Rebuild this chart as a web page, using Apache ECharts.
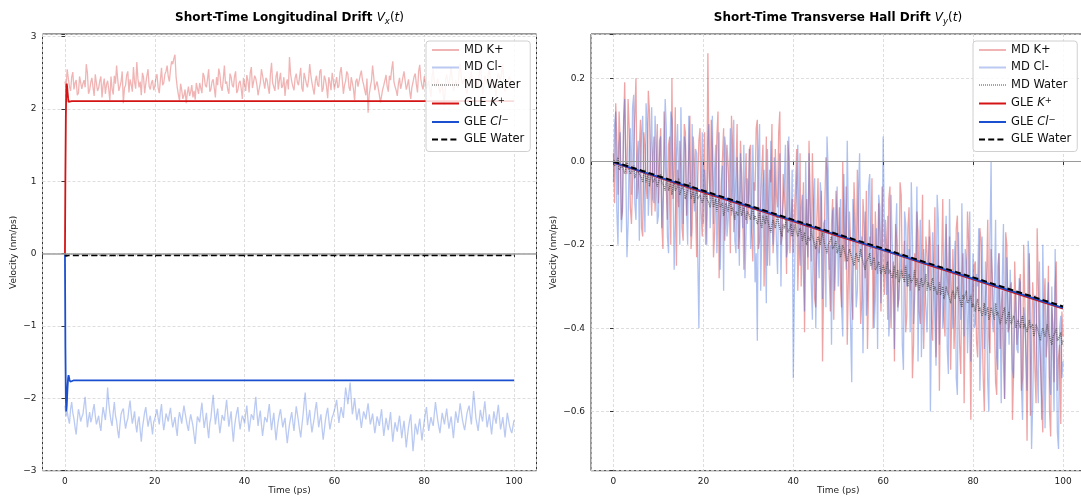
<!DOCTYPE html>
<html><head><meta charset="utf-8">
<script src="https://cdn.jsdelivr.net/npm/echarts@6/dist/echarts.min.js"></script>
<style>html,body{margin:0;padding:0;background:#fff}#c{width:1081px;height:497px}</style>
</head><body><div id="c"></div>
<script>
// ---------- DATA ----------
// MD sampling grid: 0..100 ps every 0.25 ps; "A" arrays hold the samples at t = 0, 0.5, 1.0, ...
// and "B" arrays the samples in between (t = 0.25, 0.75, ...).
const tMD = [];
for (let i = 0; i <= 400; i++) tMD.push(i * 0.25);

// Left panel: Vx(t)
const mdKxA = [
2.38,2.55,2.31,2.44,2.27,2.40,2.22,2.47,2.35,2.30,2.50,2.26,2.43,2.18,2.36,2.29,2.45,2.33,2.21,2.39,
2.12,2.28,2.46,2.60,2.25,2.38,2.08,2.33,2.52,2.41,2.24,2.37,2.65,2.30,2.19,2.44,2.35,2.55,2.27,2.40,
2.31,2.48,2.22,2.57,2.36,2.52,2.45,2.55,2.62,2.75,2.30,2.12,2.26,2.19,2.08,2.31,2.24,2.16,2.13,2.28,
2.36,2.22,2.45,2.30,2.55,2.27,2.41,2.16,2.33,2.48,2.25,2.60,2.38,2.21,2.44,2.30,2.52,2.26,2.39,2.14,
2.34,2.47,2.23,2.58,2.31,2.42,2.19,2.36,2.53,2.28,2.40,2.21,2.64,2.35,2.45,2.27,2.50,2.32,2.18,2.41,
2.72,2.38,2.26,2.49,2.33,2.57,2.24,2.43,2.30,2.62,2.36,2.20,2.46,2.31,2.55,2.28,2.41,2.15,2.37,2.50,
2.27,2.44,2.32,2.58,2.21,2.39,2.48,2.25,2.36,2.12,2.42,2.29,2.53,2.34,2.19,1.95,2.31,2.60,2.26,2.38,
2.20,2.10,2.33,2.47,2.24,2.40,2.66,2.31,2.18,2.43,2.35,2.52,2.27,2.41,2.14,2.37,2.49,2.23,2.61,2.32,
2.45,2.28,2.39,2.17,2.55,2.30,2.42,2.22,2.36,2.05,2.48,2.33,2.58,2.25,2.40,2.29,2.63,2.35,2.44,2.21,
2.37,2.52,2.26,2.43,2.31,2.67,2.20,2.46,2.34,2.57,2.28,2.41,2.18,2.49,2.38,2.62,2.24,2.35,2.45,2.30,
2.33];
const mdKxB = [
2.30,2.42,2.25,2.51,2.36,2.19,2.45,2.28,2.40,2.62,2.21,2.37,2.30,2.48,2.25,2.39,2.16,2.42,2.34,2.27,
2.45,2.20,2.35,2.41,2.31,2.52,2.29,2.47,2.23,2.34,2.58,2.28,2.42,2.38,2.50,2.22,2.46,2.31,2.36,2.26,
2.43,2.29,2.40,2.33,2.48,2.60,2.38,2.66,2.70,2.44,2.20,2.35,2.14,2.27,2.22,2.18,2.33,2.25,2.36,2.21,
2.29,2.50,2.33,2.42,2.24,2.38,2.29,2.44,2.56,2.31,2.41,2.35,2.27,2.49,2.33,2.45,2.22,2.36,2.28,2.43,
2.25,2.39,2.50,2.29,2.46,2.33,2.28,2.55,2.37,2.43,2.30,2.48,2.36,2.25,2.52,2.40,2.29,2.44,2.35,2.27,
2.48,2.31,2.43,2.37,2.45,2.29,2.50,2.35,2.41,2.47,2.28,2.39,2.34,2.52,2.24,2.46,2.31,2.44,2.26,2.40,
2.36,2.29,2.50,2.41,2.33,2.52,2.30,2.44,2.27,2.38,2.31,2.47,2.40,2.26,2.42,2.20,2.39,2.45,2.33,2.29,
2.09,2.27,2.40,2.31,2.46,2.55,2.38,2.26,2.35,2.28,2.44,2.39,2.33,2.25,2.30,2.45,2.34,2.52,2.41,2.27,
2.36,2.33,2.26,2.46,2.38,2.35,2.30,2.29,2.18,2.40,2.37,2.46,2.40,2.31,2.34,2.51,2.43,2.39,2.28,2.33,
2.45,2.35,2.38,2.36,2.49,2.42,2.31,2.39,2.48,2.36,2.33,2.30,2.42,2.45,2.52,2.31,2.29,2.41,2.36,2.34];
const mdClxA = [
-2.10,-2.18,-2.35,-2.05,-2.28,-2.50,-2.15,-2.32,-2.22,-1.98,-2.40,-2.19,-2.27,-2.08,-2.36,-2.24,-2.45,-2.12,-2.30,-1.85,
-2.20,-2.38,-2.05,-2.31,-2.55,-2.22,-2.14,-2.42,-2.28,-2.03,-2.35,-2.18,-2.47,-2.25,-2.60,-2.30,-2.12,-2.39,-2.24,-2.50,
-2.28,-2.15,-2.36,-2.08,-2.44,-2.21,-2.32,-2.13,-2.40,-2.26,-2.52,-2.19,-2.35,-2.10,-2.29,-2.45,-2.22,-2.38,-2.63,-2.25,
-2.33,-2.06,-2.41,-2.20,-2.55,-2.27,-1.95,-2.36,-2.14,-2.48,-2.23,-2.31,-2.02,-2.39,-2.18,-2.60,-2.28,-2.12,-2.43,-2.24,
-2.35,-2.10,-2.46,-2.22,-2.30,-1.98,-2.38,-2.17,-2.52,-2.26,-2.33,-2.08,-2.44,-2.20,-2.58,-2.31,-2.15,-2.40,-2.27,-2.62,
-2.36,-2.19,-2.45,-2.11,-2.32,-2.54,-2.24,-1.92,-2.37,-2.16,-2.47,-2.28,-2.05,-2.40,-2.22,-2.57,-2.30,-2.13,-2.43,-2.26,
-2.20,-2.02,-2.34,-2.12,-2.27,-1.85,-2.08,-1.78,-2.22,-2.00,-2.30,-2.14,-2.41,-2.18,-2.29,-2.07,-2.36,-2.21,-2.48,-2.25,
-2.38,-2.15,-2.52,-2.27,-2.44,-2.19,-2.60,-2.33,-2.46,-2.24,-2.55,-2.31,-2.68,-2.40,-2.22,-2.73,-2.35,-2.50,-2.28,-2.58,
-2.32,-2.12,-2.45,-2.26,-2.38,-2.05,-2.30,-2.48,-2.20,-2.36,-2.14,-2.42,-2.25,-2.55,-2.18,-2.34,-2.07,-2.29,-2.44,-2.21,
-2.10,-2.36,-1.90,-2.27,-2.45,-2.16,-2.32,-2.04,-2.40,-2.22,-2.50,-2.18,-2.35,-2.09,-2.43,-2.26,-2.54,-2.20,-2.38,-2.48,
-2.30];
const mdClxB = [
-2.25,-2.28,-2.15,-2.20,-2.40,-2.31,-2.22,-2.26,-2.09,-2.19,-2.28,-2.33,-2.16,-2.24,-2.30,-2.37,-2.26,-2.21,-2.12,-2.06,
-2.31,-2.19,-2.24,-2.45,-2.36,-2.17,-2.30,-2.33,-2.14,-2.21,-2.27,-2.36,-2.32,-2.44,-2.41,-2.19,-2.26,-2.30,-2.37,-2.33,
-2.22,-2.27,-2.19,-2.30,-2.33,-2.26,-2.21,-2.29,-2.33,-2.41,-2.30,-2.26,-2.21,-2.20,-2.38,-2.31,-2.30,-2.51,-2.42,-2.29,
-2.18,-2.25,-2.30,-2.41,-2.35,-2.10,-2.17,-2.24,-2.33,-2.36,-2.27,-2.15,-2.22,-2.28,-2.42,-2.40,-2.19,-2.30,-2.32,-2.28,
-2.21,-2.30,-2.33,-2.25,-2.12,-2.20,-2.26,-2.36,-2.39,-2.29,-2.19,-2.27,-2.31,-2.40,-2.43,-2.22,-2.28,-2.33,-2.46,-2.48,
-2.27,-2.33,-2.27,-2.21,-2.44,-2.38,-2.07,-2.15,-2.26,-2.33,-2.37,-2.15,-2.22,-2.30,-2.41,-2.44,-2.20,-2.29,-2.34,-2.22,
-2.10,-2.19,-2.22,-2.20,-2.05,-1.96,-1.92,-2.01,-2.12,-2.16,-2.21,-2.28,-2.29,-2.23,-2.17,-2.22,-2.29,-2.35,-2.37,-2.31,
-2.26,-2.35,-2.39,-2.36,-2.31,-2.41,-2.45,-2.40,-2.34,-2.39,-2.42,-2.49,-2.53,-2.30,-2.47,-2.56,-2.42,-2.38,-2.43,-2.44,
-2.21,-2.30,-2.35,-2.33,-2.21,-2.18,-2.39,-2.34,-2.28,-2.25,-2.29,-2.33,-2.40,-2.37,-2.26,-2.21,-2.18,-2.37,-2.33,-2.15,
-2.24,-2.12,-2.08,-2.36,-2.30,-2.25,-2.17,-2.22,-2.31,-2.36,-2.34,-2.27,-2.21,-2.26,-2.35,-2.40,-2.37,-2.29,-2.44,-2.39];
const tWaterX = [0,5,10,15,20,25,30,35,40,45,50,55,60,65,70,75,80,85,90,95,100];
const mdWx = [0,-0.02,-0.03,-0.02,-0.01,-0.02,-0.03,-0.02,-0.02,-0.01,-0.03,-0.02,-0.02,-0.03,-0.01,-0.02,-0.02,-0.03,-0.02,-0.02,-0.02];

const tGleX = [0,0.1,0.2,0.3,0.4,0.5,0.6,0.7,0.8,0.9,1.0,1.2,1.5,2,3,5,10,20,30,40,50,60,70,80,90,100];
const gleKx  = [0,1.1,1.9,2.3,2.35,2.3,2.22,2.15,2.1,2.08,2.08,2.1,2.11,2.11,2.11,2.11,2.11,2.11,2.11,2.11,2.11,2.11,2.11,2.11,2.11,2.11];
const gleClx = [0,-1.3,-2.0,-2.18,-2.1,-1.95,-1.82,-1.72,-1.68,-1.7,-1.74,-1.77,-1.76,-1.75,-1.75,-1.75,-1.75,-1.75,-1.75,-1.75,-1.75,-1.75,-1.75,-1.75,-1.75,-1.75];
const gleWx  = [0,-0.01,-0.02,-0.03,-0.03,-0.03,-0.03,-0.025,-0.02,-0.02,-0.02,-0.02,-0.02,-0.02,-0.02,-0.02,-0.02,-0.02,-0.02,-0.02,-0.02,-0.02,-0.02,-0.02,-0.02,-0.02];

// Right panel: Vy(t)
const mdKyA = [
0.02,0.14,-0.08,0.05,-0.12,0.19,-0.03,0.08,-0.15,0.03,0.20,-0.06,0.10,-0.18,0.04,-0.09,0.12,-0.13,0.06,-0.04,
-0.10,0.08,-0.21,0.02,-0.14,0.06,0.20,-0.03,-0.25,-0.11,-0.02,-0.19,0.07,-0.08,0.11,-0.16,-0.01,-0.23,0.05,-0.12,
-0.04,-0.20,0.26,-0.09,0.03,-0.17,0.06,-0.28,-0.05,0.08,-0.13,-0.01,-0.22,0.04,-0.10,0.09,-0.18,-0.03,-0.26,0.02,
-0.12,0.04,-0.24,-0.07,0.10,-0.19,-0.02,-0.30,0.06,-0.14,-0.05,-0.22,0.03,-0.11,0.12,-0.18,-0.08,-0.27,0.01,-0.15,
-0.22,-0.06,-0.31,0.02,-0.17,-0.41,-0.09,0.05,-0.24,-0.13,-0.35,-0.04,-0.19,-0.48,-0.11,-0.02,-0.27,-0.15,-0.38,-0.07,
-0.20,-0.30,0.00,-0.24,-0.44,-0.12,-0.33,-0.05,-0.26,-0.16,-0.39,-0.09,-0.28,-0.45,-0.18,-0.04,-0.31,-0.22,-0.10,-0.36,
-0.25,-0.14,-0.38,-0.06,-0.29,-0.48,-0.19,-0.33,-0.08,-0.27,-0.41,-0.16,-0.31,-0.52,-0.22,-0.12,-0.36,-0.26,-0.45,-0.18,
-0.30,-0.20,-0.43,-0.11,-0.34,-0.55,-0.24,-0.38,-0.15,-0.32,-0.50,-0.21,-0.37,-0.13,-0.44,-0.27,-0.58,-0.33,-0.19,-0.62,
-0.35,-0.24,-0.47,-0.16,-0.39,-0.60,-0.28,-0.42,-0.21,-0.36,-0.53,-0.25,-0.45,-0.31,-0.57,-0.20,-0.40,-0.29,-0.51,-0.34,
-0.40,-0.27,-0.52,-0.33,-0.67,-0.22,-0.45,-0.36,-0.58,-0.30,-0.49,-0.65,-0.28,-0.43,-0.60,-0.35,-0.53,-0.24,-0.47,-0.63,
-0.42];
const mdKyB = [
-0.10,0.05,0.12,-0.14,0.08,-0.02,0.15,-0.11,-0.05,0.11,-0.09,0.03,-0.16,0.07,-0.06,0.17,-0.04,0.02,-0.12,0.09,
0.01,-0.15,0.12,-0.07,0.04,-0.20,-0.09,0.13,-0.02,0.05,-0.16,0.09,-0.13,0.02,-0.21,0.06,-0.10,-0.04,0.08,-0.18,
0.07,-0.12,-0.02,0.10,-0.23,-0.06,0.12,-0.15,0.01,-0.19,0.04,-0.08,0.11,-0.17,-0.03,-0.21,0.05,-0.12,-0.07,-0.15,
0.03,-0.17,-0.05,0.08,-0.21,-0.10,0.04,-0.14,-0.25,-0.02,0.09,-0.16,-0.08,0.07,-0.20,-0.03,-0.13,0.05,-0.22,-0.09,
-0.12,0.03,-0.20,-0.30,-0.05,-0.16,-0.26,-0.10,0.02,-0.33,-0.14,-0.22,-0.07,-0.29,0.01,-0.18,-0.36,-0.09,-0.23,-0.14,
-0.11,-0.35,-0.16,-0.06,-0.28,-0.20,-0.38,-0.13,-0.02,-0.24,-0.33,-0.15,-0.07,-0.30,-0.21,-0.40,-0.12,-0.27,-0.17,-0.06,
-0.32,-0.20,-0.09,-0.40,-0.24,-0.15,-0.35,-0.05,-0.28,-0.19,-0.37,-0.11,-0.23,-0.44,-0.30,-0.17,-0.39,-0.08,-0.33,-0.22,
-0.14,-0.38,-0.26,-0.47,-0.20,-0.31,-0.09,-0.42,-0.27,-0.18,-0.36,-0.45,-0.16,-0.29,-0.51,-0.22,-0.34,-0.12,-0.40,-0.28,
-0.25,-0.43,-0.30,-0.19,-0.52,-0.33,-0.14,-0.46,-0.27,-0.38,-0.56,-0.22,-0.35,-0.48,-0.17,-0.41,-0.30,-0.62,-0.24,-0.44,
-0.31,-0.55,-0.20,-0.46,-0.38,-0.61,-0.29,-0.50,-0.16,-0.42,-0.57,-0.34,-0.47,-0.25,-0.66,-0.39,-0.30,-0.55,-0.44,-0.36];
const mdClyA = [
-0.05,0.12,-0.20,0.07,-0.11,0.15,-0.23,0.02,-0.08,0.16,-0.14,0.05,-0.02,0.11,-0.17,0.09,-0.06,0.13,-0.10,0.03,
-0.13,0.06,-0.09,0.15,-0.18,-0.02,0.10,-0.26,0.01,-0.07,0.13,-0.15,0.04,-0.20,-0.03,0.09,-0.12,0.02,-0.40,-0.06,
-0.15,-0.08,0.05,-0.16,0.11,-0.02,-0.22,0.07,-0.11,-0.31,0.03,-0.14,0.08,-0.06,-0.19,0.01,-0.25,-0.09,0.04,-0.17,
-0.10,-0.21,0.04,-0.29,-0.43,0.09,-0.16,-0.02,-0.34,-0.12,0.05,-0.20,-0.08,-0.27,0.02,-0.14,-0.05,-0.23,0.06,-0.18,
-0.52,-0.12,0.04,-0.25,-0.08,-0.36,-0.17,0.02,-0.29,-0.10,-0.40,-0.21,-0.05,-0.33,-0.14,0.06,-0.26,-0.44,-0.11,-0.20,
-0.30,-0.09,-0.42,-0.18,0.05,-0.27,-0.53,-0.14,-0.35,-0.07,-0.23,-0.46,-0.12,-0.31,-0.03,-0.26,-0.40,-0.16,-0.08,-0.34,
0.06,-0.24,-0.13,-0.37,-0.20,-0.45,-0.10,-0.31,-0.22,-0.50,-0.15,-0.28,-0.41,-0.18,-0.33,-0.06,-0.26,-0.47,-0.21,-0.35,
-0.29,-0.60,-0.17,-0.38,-0.08,-0.44,-0.25,-0.34,-0.13,-0.51,-0.27,-0.40,-0.19,-0.56,-0.31,-0.10,-0.42,-0.24,-0.36,-0.48,
-0.22,-0.39,-0.30,-0.55,-0.18,-0.45,-0.33,-0.60,0.00,-0.41,-0.14,-0.50,-0.35,-0.28,-0.57,-0.23,-0.44,-0.37,-0.52,-0.31,
-0.46,-0.29,-0.62,-0.38,-0.55,-0.25,-0.69,-0.41,-0.33,-0.58,-0.45,-0.20,-0.64,-0.36,-0.52,-0.30,-0.60,-0.43,-0.69,-0.37,
-0.48];
const mdClyB = [
0.09,-0.12,0.04,-0.17,0.10,-0.03,-0.15,0.08,0.13,-0.10,0.01,-0.19,0.07,-0.06,0.14,-0.13,0.02,-0.09,0.11,-0.15,
0.05,-0.16,-0.02,0.08,-0.22,0.12,-0.06,-0.14,0.09,-0.20,-0.04,0.06,-0.11,0.11,-0.18,-0.07,0.03,-0.23,-0.10,0.07,
-0.02,-0.20,0.09,-0.07,-0.15,0.04,-0.11,-0.26,-0.01,0.06,-0.18,-0.05,-0.13,0.10,-0.22,-0.09,0.02,-0.16,-0.28,-0.04,
0.03,-0.15,-0.08,-0.22,0.01,-0.31,-0.06,-0.18,0.03,-0.25,-0.13,0.01,-0.19,-0.04,-0.30,-0.10,0.04,-0.21,-0.12,-0.02,
-0.30,-0.06,-0.19,-0.11,-0.27,0.00,-0.23,-0.13,-0.38,-0.04,-0.19,-0.28,-0.09,-0.15,-0.35,-0.02,-0.20,-0.12,-0.31,-0.06,
-0.19,-0.35,-0.03,-0.26,-0.14,-0.40,-0.09,-0.22,-0.31,0.02,-0.18,-0.28,-0.37,-0.06,-0.24,-0.15,-0.33,-0.45,-0.11,-0.21,
-0.16,-0.32,-0.42,-0.08,-0.27,-0.18,-0.36,-0.25,-0.44,-0.12,-0.30,-0.21,-0.05,-0.39,-0.24,-0.48,-0.14,-0.33,-0.28,-0.41,
-0.18,-0.36,-0.27,-0.49,-0.14,-0.31,-0.40,-0.22,-0.45,-0.09,-0.34,-0.26,-0.52,-0.17,-0.38,-0.29,-0.21,-0.46,-0.12,-0.33,
-0.40,-0.27,-0.16,-0.44,-0.34,-0.24,-0.53,-0.19,-0.38,-0.30,-0.47,-0.22,-0.58,-0.15,-0.42,-0.33,-0.26,-0.50,-0.37,-0.45,
-0.28,-0.54,-0.35,-0.47,-0.19,-0.41,-0.58,-0.32,-0.50,-0.24,-0.62,-0.38,-0.45,-0.29,-0.56,-0.44,-0.21,-0.65,-0.40,-0.52];
const mdWyA = [
0.00,-0.01,0.01,-0.02,-0.01,-0.03,0.00,-0.02,-0.03,-0.01,-0.04,-0.02,-0.03,-0.05,-0.02,-0.04,-0.06,-0.03,-0.05,-0.04,
-0.06,-0.03,-0.05,-0.07,-0.04,-0.06,-0.08,-0.05,-0.07,-0.04,-0.08,-0.06,-0.09,-0.07,-0.05,-0.08,-0.10,-0.07,-0.09,-0.08,
-0.10,-0.07,-0.09,-0.11,-0.08,-0.10,-0.12,-0.09,-0.11,-0.13,-0.10,-0.12,-0.09,-0.11,-0.14,-0.12,-0.10,-0.13,-0.11,-0.14,
-0.12,-0.14,-0.11,-0.13,-0.15,-0.12,-0.16,-0.14,-0.13,-0.15,-0.17,-0.14,-0.16,-0.13,-0.15,-0.18,-0.16,-0.14,-0.17,-0.15,
-0.17,-0.15,-0.18,-0.16,-0.19,-0.17,-0.20,-0.18,-0.16,-0.19,-0.21,-0.18,-0.20,-0.17,-0.19,-0.22,-0.20,-0.18,-0.21,-0.19,
-0.21,-0.23,-0.20,-0.22,-0.24,-0.21,-0.23,-0.25,-0.22,-0.24,-0.21,-0.23,-0.26,-0.24,-0.22,-0.25,-0.23,-0.26,-0.24,-0.27,
-0.25,-0.27,-0.24,-0.26,-0.28,-0.25,-0.27,-0.29,-0.26,-0.28,-0.25,-0.30,-0.27,-0.29,-0.26,-0.28,-0.31,-0.28,-0.30,-0.27,
-0.29,-0.31,-0.28,-0.30,-0.32,-0.29,-0.31,-0.33,-0.30,-0.32,-0.34,-0.31,-0.33,-0.30,-0.32,-0.35,-0.33,-0.31,-0.34,-0.32,
-0.34,-0.36,-0.33,-0.35,-0.37,-0.34,-0.36,-0.38,-0.35,-0.37,-0.34,-0.36,-0.39,-0.37,-0.35,-0.38,-0.36,-0.39,-0.37,-0.40,
-0.38,-0.40,-0.37,-0.39,-0.41,-0.38,-0.40,-0.42,-0.39,-0.41,-0.43,-0.40,-0.42,-0.39,-0.41,-0.44,-0.42,-0.40,-0.43,-0.41,
-0.43];
const mdWyB = [
-0.01,0.00,-0.02,-0.01,-0.02,-0.03,-0.01,-0.03,-0.02,-0.04,-0.02,-0.03,-0.04,-0.03,-0.05,-0.03,-0.04,-0.05,-0.04,-0.06,
-0.04,-0.05,-0.06,-0.05,-0.07,-0.05,-0.06,-0.07,-0.06,-0.08,-0.06,-0.07,-0.08,-0.06,-0.09,-0.07,-0.08,-0.09,-0.08,-0.10,
-0.08,-0.09,-0.10,-0.09,-0.11,-0.09,-0.10,-0.11,-0.10,-0.12,-0.11,-0.10,-0.12,-0.11,-0.12,-0.13,-0.11,-0.12,-0.13,-0.12,
-0.13,-0.12,-0.14,-0.13,-0.14,-0.15,-0.13,-0.15,-0.14,-0.16,-0.15,-0.14,-0.16,-0.15,-0.17,-0.15,-0.16,-0.17,-0.16,-0.18,
-0.16,-0.17,-0.18,-0.17,-0.18,-0.19,-0.18,-0.19,-0.18,-0.20,-0.19,-0.18,-0.20,-0.19,-0.21,-0.20,-0.19,-0.21,-0.20,-0.22,
-0.20,-0.22,-0.21,-0.23,-0.22,-0.21,-0.24,-0.23,-0.22,-0.24,-0.23,-0.25,-0.24,-0.23,-0.25,-0.24,-0.26,-0.25,-0.24,-0.26,
-0.26,-0.25,-0.27,-0.26,-0.27,-0.28,-0.26,-0.28,-0.27,-0.29,-0.28,-0.27,-0.29,-0.28,-0.30,-0.28,-0.29,-0.30,-0.29,-0.31,
-0.30,-0.29,-0.31,-0.30,-0.31,-0.32,-0.30,-0.32,-0.31,-0.33,-0.32,-0.31,-0.33,-0.32,-0.34,-0.32,-0.33,-0.34,-0.33,-0.35,
-0.35,-0.34,-0.36,-0.35,-0.36,-0.37,-0.35,-0.37,-0.36,-0.38,-0.37,-0.36,-0.38,-0.37,-0.39,-0.37,-0.38,-0.39,-0.38,-0.40,
-0.39,-0.38,-0.40,-0.39,-0.41,-0.40,-0.39,-0.41,-0.40,-0.42,-0.41,-0.40,-0.42,-0.41,-0.43,-0.42,-0.41,-0.43,-0.42,-0.44];
const tGleY = [0,10,20,30,40,50,60,70,80,90,100];
const gleKy  = [-0.003,-0.038,-0.074,-0.109,-0.144,-0.179,-0.213,-0.248,-0.283,-0.318,-0.353];
const gleCly = [-0.002,-0.037,-0.072,-0.107,-0.142,-0.177,-0.212,-0.246,-0.281,-0.316,-0.351];
const gleWy  = [0,-0.035,-0.070,-0.105,-0.140,-0.175,-0.209,-0.244,-0.278,-0.313,-0.348];

const seriesNames = ['MD K+','MD Cl-','MD Water','GLE K+','GLE Cl-','GLE Water'];
const xTicks = [0,20,40,60,80,100];

// ---------- STYLE ----------
const FONT = 'DejaVu Sans';
const C_MDK = '#d62728', C_MDCL = '#2a5bd7';
const C_GK = '#d41414', C_GCL = '#1a4fcf';
const pair = (t, v) => v.map((y, i) => [t[i], y]);
// merge the on-grid (A) and in-between (B) samples onto the 0.25 ps grid
function mdPairs(a, b){
  const out = [];
  for (let i = 0; i < a.length; i++) {
    out.push([tMD[2 * i], a[i]]);
    if (i < b.length) out.push([tMD[2 * i + 1], b[i]]);
  }
  return out;
}

function xFmt(v){ return xTicks.indexOf(v) >= 0 ? String(v) : ''; }
function yFmtL(v){ const r = Math.round(v); return Math.abs(v - r) > 1e-6 ? '' : String(r).replace('-', '\u2212'); }
function yFmtR(v){ const r = Math.round(v*5)/5; if (Math.abs(v - r) > 1e-6) return ''; const s = r.toFixed(1); return (s === '-0.0' ? '0.0' : s).replace('-', '\u2212'); }

const grids = [
  {left: 42.5, top: 34, width: 494, height: 436.7, show: true, borderColor: '#333', borderWidth: 1,
   backgroundColor: 'transparent', containLabel: false, outerBoundsMode: 'none'},
  {left: 591, top: 34, width: 494.5, height: 436.7, show: true, borderColor: '#333', borderWidth: 1,
   backgroundColor: 'transparent', containLabel: false, outerBoundsMode: 'none'}
];
function xAx(gi){
  return {type: 'value', gridIndex: gi, min: -5, max: 105, splitNumber: 5,
    name: 'Time (ps)', nameLocation: 'middle', nameGap: 15, nameMoveOverlap: false,
    nameTextStyle: {fontFamily: FONT, fontSize: 9, color: '#222', verticalAlign: 'top'},
    axisLine: {show: false}, axisTick: {show: true, length: 3.5, lineStyle: {color: '#333'}},
    axisLabel: {formatter: xFmt, fontFamily: FONT, fontSize: 9, color: '#222', margin: 6},
    splitLine: {show: true, lineStyle: {color: '#d6d6d6', type: [3, 2], width: 0.8}}};
}
const yAxes = [
  {type: 'value', gridIndex: 0, min: -3, max: 3.037, splitNumber: 6,
    name: 'Velocity (nm/ps)', nameLocation: 'middle', nameGap: 24,
    nameTextStyle: {fontFamily: FONT, fontSize: 9, color: '#222'},
    axisLine: {show: false}, axisTick: {show: true, length: 3.5, lineStyle: {color: '#333'}},
    axisLabel: {formatter: yFmtL, fontFamily: FONT, fontSize: 9, color: '#222', margin: 6},
    splitLine: {show: true, lineStyle: {color: '#d6d6d6', type: [3, 2], width: 0.8}}},
  {type: 'value', gridIndex: 1, min: -0.742, max: 0.306, splitNumber: 5,
    name: 'Velocity (nm/ps)', nameLocation: 'middle', nameGap: 33,
    nameTextStyle: {fontFamily: FONT, fontSize: 9, color: '#222'},
    axisLine: {show: false}, axisTick: {show: true, length: 3.5, lineStyle: {color: '#333'}},
    axisLabel: {formatter: yFmtR, fontFamily: FONT, fontSize: 9, color: '#222', margin: 6},
    splitLine: {show: true, lineStyle: {color: '#d6d6d6', type: [3, 2], width: 0.8}}}
];

function md(name, gi, data, color, opacity, width, extra){
  return Object.assign({name, type: 'line', xAxisIndex: gi, yAxisIndex: gi, data, symbol: 'none', showSymbol: false,
    silent: true, animation: false, lineStyle: {color, width, opacity}, itemStyle: {color, opacity: 0}}, extra || {});
}
function zeroLine(w, c){
  return {silent: true, symbol: ['none','none'], label: {show: false}, animation: false,
    lineStyle: {color: c, width: w, type: 'solid', opacity: 1}, data: [{yAxis: 0}]};
}

const series = [];
[0, 1].forEach(gi => {
  const L = gi === 0;
  series.push(md('MD K+', gi, L ? mdPairs(mdKxA, mdKxB) : mdPairs(mdKyA, mdKyB), C_MDK, L ? 0.35 : 0.42, 1.3));
  series.push(md('MD Cl-', gi, L ? mdPairs(mdClxA, mdClxB) : mdPairs(mdClyA, mdClyB), C_MDCL, L ? 0.32 : 0.38, 1.3));
  series.push(md('MD Water', gi, L ? pair(tWaterX, mdWx) : mdPairs(mdWyA, mdWyB), '#555', 0.7, 1.1,
    {lineStyle: {color: '#4a4a4a', width: L ? 1.1 : 1.5, opacity: L ? 0.5 : 0.72, type: [1, 1]},
     markLine: zeroLine(L ? 1.5 : 1, L ? '#a0a0a0' : '#9a9a9a')}));
  series.push(md('GLE K+', gi, pair(L ? tGleX : tGleY, L ? gleKx : gleKy), C_GK, 1, 1.8));
  series.push(md('GLE Cl-', gi, pair(L ? tGleX : tGleY, L ? gleClx : gleCly), C_GCL, 1, 1.8));
  series.push(md('GLE Water', gi, pair(L ? tGleX : tGleY, L ? gleWx : gleWy), '#000', 1, 2,
    {lineStyle: {color: '#000', width: 2, type: [6, 3.2]}}));
});

const legendRich = {
  n: {fontFamily: FONT, fontSize: 11.5, color: '#111', lineHeight: 14},
  i: {fontFamily: FONT, fontSize: 11.5, color: '#111', fontStyle: 'italic', lineHeight: 14},
  p: {fontFamily: FONT, fontSize: 8.5, color: '#111', verticalAlign: 'top', lineHeight: 14}
};
function legendFmt(name){
  if (name === 'GLE K+') return '{n|GLE }{i|K}{p|+}';
  if (name === 'GLE Cl-') return '{n|GLE }{i|Cl}{p|\u2212}';
  return '{n|' + name + '}';
}
function legend(left){
  return {left, top: 41, orient: 'vertical', data: seriesNames, formatter: legendFmt,
    itemWidth: 27, itemHeight: 14, itemGap: 5.5, padding: [3, 6, 6, 5],
    itemStyle: {opacity: 0},
    backgroundColor: 'rgba(255,255,255,0.85)', borderColor: '#d0d0d0', borderWidth: 1, borderRadius: 3,
    selectedMode: false, textStyle: {fontFamily: FONT, fontSize: 11.5, color: '#111', rich: legendRich}};
}

const titleRich = {
  b: {fontFamily: FONT, fontSize: 12, fontWeight: 'bold', fill: '#000', lineHeight: 16},
  i: {fontFamily: FONT, fontSize: 12, fontStyle: 'italic', fill: '#000', lineHeight: 16},
  n: {fontFamily: FONT, fontSize: 12, fill: '#000', lineHeight: 16},
  s: {fontFamily: FONT, fontSize: 8.5, fontStyle: 'italic', fill: '#000', lineHeight: 16, verticalAlign: 'bottom'}
};
function titleText(x, main, sub){
  return {type: 'text', x, y: 18, silent: true, style: {
    text: '{b|' + main + ' }{i|V}{s|' + sub + '}{n|(}{i|t}{n|)}',
    align: 'center', verticalAlign: 'middle', rich: titleRich}};
}

const chart = echarts.init(document.getElementById('c'), null, {renderer: 'canvas'});
chart.setOption({
  animation: false,
  backgroundColor: '#fff',
  grid: grids,
  xAxis: [xAx(0), xAx(1)],
  yAxis: yAxes,
  legend: [legend(426), legend(973)],
  series,
  graphic: [titleText(289.5, 'Short-Time Longitudinal Drift', 'x'), titleText(838, 'Short-Time Transverse Hall Drift', 'y')]
});
</script></body></html>
